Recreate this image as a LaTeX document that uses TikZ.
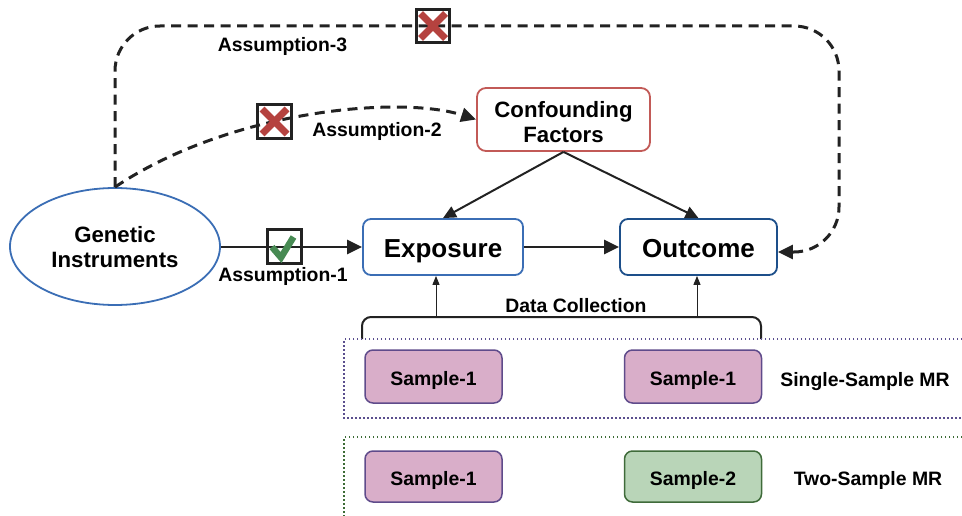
\documentclass[tikz,border=0pt]{standalone}
\usepackage{fontspec}
\setmainfont{Liberation Sans}
\usetikzlibrary{arrows.meta,shapes.geometric}
\definecolor{bluea}{HTML}{3B6EB5}
\definecolor{blueb}{HTML}{1D4F8A}
\definecolor{redc}{HTML}{C25A57}
\definecolor{pinkfill}{HTML}{D9AEC9}
\definecolor{pinkline}{HTML}{5F4B8B}
\definecolor{greenfill}{HTML}{B9D5B8}
\definecolor{greenline}{HTML}{3F6B3A}
\definecolor{purpdot}{HTML}{5A4E8E}
\definecolor{greendot}{HTML}{3B6B35}
\definecolor{xred}{HTML}{B5423F}
\definecolor{chkgreen}{HTML}{478A53}
\definecolor{ink}{HTML}{222222}
\tikzset{
  fA/.style={font=\bfseries\fontsize{19.4}{22}\selectfont},
  fS/.style={font=\bfseries\fontsize{19.4}{22}\selectfont},
  fM/.style={font=\bfseries\fontsize{22.2}{25}\selectfont},
  fL/.style={font=\bfseries\fontsize{26}{30}\selectfont},
  mainbox/.style={draw, rounded corners=8pt, line width=1.8pt, inner sep=0pt, fL,
    text height=20pt, text depth=0pt},
  samplebox/.style={draw=pinkline, fill=pinkfill, rounded corners=8pt, line width=1.5pt,
    minimum width=137pt, minimum height=53pt, inner sep=0pt, fS, text height=17pt, text depth=0pt},
  arr/.style={draw=ink, line width=2.5pt, -{Triangle[length=15pt,width=14pt]}},
  carr/.style={draw=ink, line width=2pt, -{Triangle[length=13pt,width=12pt]}},
  thinarr/.style={draw=ink, line width=1pt, -{Triangle[length=9pt,width=7pt]}},
  dashline/.style={draw=ink, line width=3pt, dash pattern=on 10pt off 6.5pt, -{Triangle[length=15pt,width=14pt]}},
  markbox/.style={draw=ink, line width=2.5pt, minimum size=34pt, inner sep=0pt},
  xmark/.style={draw=xred, line width=7pt},
  chkmark/.style={draw=chkgreen, line width=6.5pt, line join=miter},
  dotbox/.style={line width=1.8pt, dash pattern=on 1.5pt off 2.5pt},
}
\begin{document}
\begin{tikzpicture}[x=1pt,y=-1pt]
\useasboundingbox (0,0) rectangle (962,516);
% nodes
\node[ellipse, draw=bluea, line width=1.8pt, minimum width=210pt, minimum height=117pt,
  align=center, inner sep=0pt, fM] (gi) at (115,246.5) {\rule{0pt}{17.5pt}Genetic\\Instruments};
\node[mainbox, draw=bluea, minimum width=160pt, minimum height=56pt] (exp) at (443,247) {Exposure};
\node[mainbox, draw=blueb, minimum width=157pt, minimum height=56pt] (out) at (698.5,247) {Outcome};
\node[draw=redc, rounded corners=9pt, line width=1.8pt, minimum width=173pt, minimum height=63pt,
  align=center, inner sep=0pt, fM] (cf) at (563.5,119.5) {\rule{0pt}{22pt}Confounding\\Factors};

% dashed assumptions
\draw[dashline, rounded corners=45pt] (gi.north) -- (115,26) -- (839,26) -- (839,252) -- ([yshift=-5pt]out.east);
\draw[dashline] (gi.north) .. controls (230,110) and (400,95) .. (cf.west);

% solid arrows
\draw[arr] (gi.east |- exp.west) -- (exp.west);
\draw[arr] (exp.east) -- (out.west);
\draw[carr] (cf.south) -- (exp.north);
\draw[carr] (cf.south) -- (out.north);

% marks
\node[markbox] (m1) at (284.5,246.5) {};
\draw[chkmark] ([shift={(-12.5,0.5)}]m1.center) -- ([shift={(-3.5,11)}]m1.center) -- ([shift={(9,-9.5)}]m1.center);
\node[markbox] (m2) at (274.5,121.5) {};
\draw[xmark] ([shift={(-12.5,-12.5)}]m2.center) -- ([shift={(12.5,12.5)}]m2.center);
\draw[xmark] ([shift={(-12.5,12.5)}]m2.center) -- ([shift={(12.5,-12.5)}]m2.center);
\node[markbox, minimum size=33pt] (m3) at (433,26) {};
\draw[xmark] ([shift={(-12.5,-12.5)}]m3.center) -- ([shift={(12.5,12.5)}]m3.center);
\draw[xmark] ([shift={(-12.5,12.5)}]m3.center) -- ([shift={(12.5,-12.5)}]m3.center);

% labels
\node[fA, anchor=base] (a1) at (283,281) {Assumption-1};
\node[fA, anchor=base] (a2) at (377,137) {Assumption-2};
\node[fA, anchor=base] (a3) at (282.5,52) {Assumption-3};

% data collection
\node[fS, anchor=base] (dc) at (576,312) {Data Collection};
\coordinate (bl) at (362,339);
\coordinate (br) at (761,339);
\draw[draw=ink, line width=2pt, rounded corners=9pt] (bl) -- (362,317) -- (761,317) -- (br);
\coordinate (b1) at (436,317);
\coordinate (b2) at (697,317);
\draw[thinarr] (b1) -- (b1 |- exp.south);
\draw[thinarr] (b2) -- (b2 |- out.south);

% dotted groups
\draw[dotbox, draw=purpdot] (970,339) -- (344,339) -- (344,418) -- (970,418);
\draw[dotbox, draw=greendot] (970,437) -- (344,437) -- (344,525);

% samples
\node[samplebox] (s1) at (433.5,376.5) {Sample-1};
\node[samplebox] (s2) at (693,376.5) {Sample-1};
\node[samplebox, minimum height=51pt] (s3) at (433.5,476.5) {Sample-1};
\node[samplebox, minimum height=51pt, draw=greenline, fill=greenfill] (s4) at (693,476.5) {Sample-2};

\node[fS, anchor=base] (smr) at (865,386) {Single-Sample MR};
\node[fS, anchor=base] (tmr) at (868,485) {Two-Sample MR};
\end{tikzpicture}
\end{document}
